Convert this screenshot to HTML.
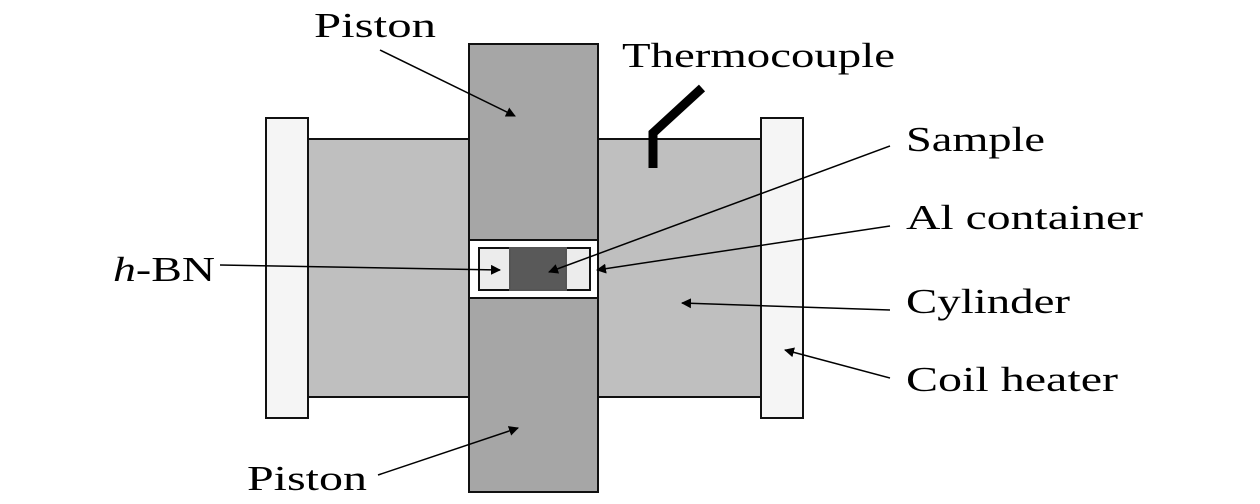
<!DOCTYPE html>
<html><head><style>body{margin:0;background:#fff}</style></head><body>
<svg width="1260" height="504" xmlns="http://www.w3.org/2000/svg" style="display:block">
<defs><marker id="a" markerWidth="10" markerHeight="10" refX="9" refY="5" orient="auto" markerUnits="userSpaceOnUse"><path d="M0,0 L10,5 L0,10 z" fill="#000"/></marker></defs>
<g stroke="#111" stroke-width="2">
<rect x="308" y="139" width="453" height="258" fill="#bfbfbf"/>
<rect x="266" y="118" width="42" height="300" fill="#f5f5f5"/>
<rect x="761" y="118" width="42" height="300" fill="#f5f5f5"/>
<rect x="469" y="44" width="129" height="196" fill="#a6a6a6"/>
<rect x="469" y="298" width="129" height="194" fill="#a6a6a6"/>
<rect x="469" y="240" width="129" height="58" fill="#fff"/>
<rect x="479" y="248" width="111" height="42" fill="#ececec"/>
<rect x="510" y="248" width="56" height="42" fill="#595959" stroke="#555"/>
</g>
<polyline points="653,168 653,133 702,88" fill="none" stroke="#000" stroke-width="9"/>
<g stroke="#000" stroke-width="1.5" fill="none" marker-end="url(#a)">
<line x1="380" y1="50" x2="515" y2="116"/>
<line x1="890" y1="146" x2="549" y2="272"/>
<line x1="890" y1="226" x2="597" y2="270"/>
<line x1="890" y1="310" x2="682" y2="303"/>
<line x1="890" y1="378" x2="785" y2="350"/>
<line x1="220" y1="265" x2="500" y2="270"/>
<line x1="378" y1="475" x2="518" y2="428"/>
</g>
<g font-family="Liberation Serif, serif" font-size="35" fill="#000" lengthAdjust="spacingAndGlyphs">
<text x="314" y="37" textLength="122" lengthAdjust="spacingAndGlyphs">Piston</text>
<text x="622" y="67" textLength="273" lengthAdjust="spacingAndGlyphs">Thermocouple</text>
<text x="906" y="151" textLength="139" lengthAdjust="spacingAndGlyphs">Sample</text>
<text x="906" y="229" textLength="237" lengthAdjust="spacingAndGlyphs">Al container</text>
<text x="906" y="313" textLength="164" lengthAdjust="spacingAndGlyphs">Cylinder</text>
<text x="906" y="391" textLength="212" lengthAdjust="spacingAndGlyphs">Coil heater</text>
<text x="113" y="281" textLength="102" lengthAdjust="spacingAndGlyphs"><tspan font-style="italic">h</tspan>-BN</text>
<text x="247" y="490" textLength="120" lengthAdjust="spacingAndGlyphs">Piston</text>
</g>
</svg>
</body></html>
